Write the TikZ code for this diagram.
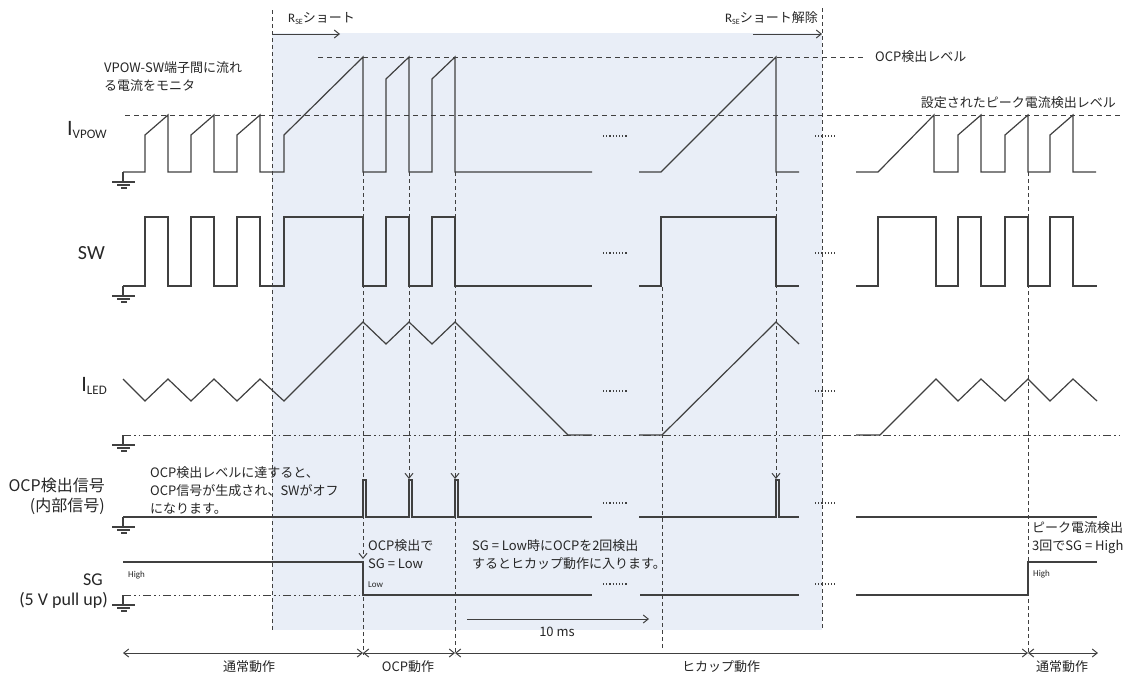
\documentclass[tikz,border=0pt]{standalone}
\usepackage{fontspec}
\setmainfont{Carlito}
\newfontfamily\jp{Noto Sans CJK JP}
\usetikzlibrary{arrows.meta}
\definecolor{wave}{HTML}{404040}
\definecolor{shortbg}{HTML}{E9EEF7}
\def\gnd(#1,#2){\draw[wave] (#1,#2) -- (#1,#2+10) (#1-11,#2+10) -- (#1+12,#2+10) (#1-6,#2+13) -- (#1+7,#2+13) (#1-2,#2+16) -- (#1+4,#2+16);}
\def\gapdots(#1){\draw[wave,dotted,line width=1.4pt] (603,#1) -- (627,#1); \draw[wave,dotted,line width=1.4pt] (815,#1) -- (837,#1);}

\begin{document}
\begin{tikzpicture}[x=1pt,y=-1pt,
  wave/.style={line width=1.2pt,color=wave,line join=miter},
  lvl/.style={wave,line width=1pt,dash pattern=on 5pt off 4pt},
  guide/.style={wave,line width=1pt,dash pattern=on 4pt off 3pt},
  gndline/.style={wave,line width=1pt,dash pattern=on 8pt off 3pt on 1.5pt off 3pt on 1.5pt off 3pt},
  >={Straight Barb[length=5pt,width=8pt]},
  note/.style={font=\jp\fontsize{13}{18}\selectfont,align=left,inner sep=0pt,text=black!85},
  small/.style={font=\fontsize{9}{10}\selectfont,inner sep=0pt,text=black!85},
  rowlbl/.style={inner sep=0pt,anchor=east,text=black!85}]
			%%%%% START %%%%%
			\useasboundingbox (0,0) rectangle (1131,673);
			\fill[shortbg] (272,33) rectangle (822,630);
			
			%% levels
			\draw[lvl] (125,115) -- (1120,115);
			\draw[lvl] (318,57) -- (866,57);
			\node[note,anchor=west] (ocplvl) at (875,57) {OCP検出レベル};
			\node[note,anchor=east] (pklvl) at (1116,103) {設定されたピーク電流検出レベル};
			
			%% R_SE short
			\draw[guide] (272,10) -- (272,630);
			\draw[guide] (822,8) -- (822,630);
			\draw[wave,line width=1pt,->] (272,34) -- (340,34);
			\draw[wave,line width=1pt,->] (753,34) -- (822,34);
			\node[inner sep=0pt,anchor=west,text=black!85] (rse) at (288,18) {\fontsize{13}{13}\selectfont R\raisebox{-2pt}{\fontsize{8}{8}\selectfont SE}\jp ショート};
			\node[inner sep=0pt,anchor=east,text=black!85] (rseoff) at (818,18) {\fontsize{13}{13}\selectfont R\raisebox{-2pt}{\fontsize{8}{8}\selectfont SE}\jp ショート解除};
			
			%% I_VPOW
			\node[rowlbl] (ivpow) at (107,130) {\fontsize{22}{22}\selectfont I\raisebox{-3pt}{\fontsize{13}{13}\selectfont VPOW}};
			\node[note,anchor=north west] (mon) at (104,61) {VPOW-SW端子間に流れ\\る電流をモニタ};
			\gnd(123,172);
			\draw[wave] (123,172) -- (145,172) -- (145,135) -- (168,115) -- (168,172) -- (191,172) -- (191,135) -- (214,115) -- (214,172) -- (237,172) -- (237,135) -- (260,115) -- (260,172) -- (284,172) -- (284,135) -- (363,57) -- (363,172) -- (386,172) -- (386,79) -- (409,57) -- (409,172) -- (432,172) -- (432,79) -- (455,57) -- (455,172) -- (592,172);
			\draw[wave] (639,172) -- (661,172) -- (776,57) -- (776,172) -- (799,172);
			\draw[wave] (856,172) -- (878,172) -- (934,115) -- (934,172) -- (958,172) -- (958,135) -- (981,115) -- (981,172) -- (1005,172) -- (1005,135) -- (1028,115) -- (1028,172) -- (1050,172) -- (1050,135) -- (1073,115) -- (1073,172) -- (1096,172);
			\gapdots(136);
			
			%% SW
			\node[rowlbl] (sw) at (105,253) {\fontsize{20}{20}\selectfont SW};
			\gnd(123,286);
			\draw[wave] (123,286) -- (145,286) -- (145,217) -- (168,217) -- (168,286) -- (191,286) -- (191,217) -- (214,217) -- (214,286) -- (237,286) -- (237,217) -- (260,217) -- (260,286) -- (284,286) -- (284,217) -- (363,217) -- (363,286) -- (386,286) -- (386,217) -- (409,217) -- (409,286) -- (432,286) -- (432,217) -- (455,217) -- (455,286) -- (592,286);
			\draw[wave] (639,286) -- (661,286) -- (661,217) -- (776,217) -- (776,286) -- (799,286);
			\draw[wave] (856,286) -- (878,286) -- (878,217) -- (936,217) -- (936,286) -- (958,286) -- (958,217) -- (981,217) -- (981,286) -- (1005,286) -- (1005,217) -- (1028,217) -- (1028,286) -- (1050,286) -- (1050,217) -- (1073,217) -- (1073,286) -- (1097,286);
			\gapdots(253);
			
			%% I_LED
			\node[rowlbl] (iled) at (107,386) {\fontsize{22}{22}\selectfont I\raisebox{-3pt}{\fontsize{13}{13}\selectfont LED}};
			\draw[gndline] (123,435) -- (1120,435);
			\gnd(123,435);
			\draw[wave] (123,379) -- (145,401) -- (168,379) -- (191,401) -- (214,379) -- (237,401) -- (260,379) -- (284,401) -- (363,322) -- (386,344) -- (409,322) -- (432,344) -- (455,322) -- (568,435) -- (592,435);
			\draw[wave] (639,435) -- (662,435) -- (776,322) -- (799,344);
			\draw[wave] (856,435) -- (880,435) -- (936,379) -- (958,401) -- (981,379) -- (1005,401) -- (1028,379) -- (1050,401) -- (1073,379) -- (1097,401);
			\gapdots(391);
			
			%% OCP signal
			\node[rowlbl,font=\jp\fontsize{16}{20}\selectfont,align=right,anchor=north east] (ocpsig) at (105,478) {OCP検出信号\\(内部信号)};
			\node[note,anchor=north west] (ocpnote) at (150,466) {OCP検出レベルに達すると、\\OCP信号が生成され、SWがオフ\\になります。};
			\gnd(123,517);
			\draw[wave] (123,517) -- (363,517) -- (363,480) -- (366,480) -- (366,517) -- (409,517) -- (409,480) -- (412,480) -- (412,517) -- (455,517) -- (455,480) -- (458,480) -- (458,517) -- (592,517);
			\draw[wave] (639,517) -- (776,517) -- (776,480) -- (779,480) -- (779,517) -- (799,517);
			\draw[wave] (856,517) -- (1097,517);
			\gapdots(503);
			
			%% SG
			\node[rowlbl] (sg) at (103,580) {\fontsize{18}{18}\selectfont SG};
			\node[rowlbl] (pullup) at (108,600) {\fontsize{18}{18}\selectfont (5 V pull up)};
			\draw[gndline] (123,595) -- (363,595);
			\gnd(123,595);
			\draw[wave] (123,562) -- (363,562) -- (363,595) -- (592,595);
			\draw[wave] (640,595) -- (799,595);
			\draw[wave] (856,595) -- (1028,595) -- (1028,562) -- (1097,562);
			\node[small,anchor=west] (sghi) at (128,575) {High};
			\node[small,anchor=west] (sglo) at (368,585) {Low};
			\node[small,anchor=west] (sghi2) at (1033,574) {High};
			\node[note,anchor=north west] (sgnote1) at (368,539) {OCP検出で\\SG = Low};
			\node[note,anchor=north west] (sgnote2) at (472,539) {SG = Low時にOCPを2回検出\\するとヒカップ動作に入ります。};
			\node[note,anchor=north west] (sgnote3) at (1032,521) {ピーク電流検出\\3回でSG = High};
			\gapdots(584);
			
			%% guides
			\draw[guide,->] (363,172) -- (363,559);
			\draw[guide] (363,562) -- (363,655);
			\draw[guide,->] (409,172) -- (409,479);
			\draw[guide,->] (455,172) -- (455,479);
			\draw[guide] (455,480) -- (455,655);
			\draw[guide,->] (776,172) -- (776,479);
			\draw[guide] (662,287) -- (662,650);
			\draw[guide] (1028,172) -- (1028,655);
			
			%% 10 ms
			\draw[wave,line width=1pt,->] (467,619) -- (649,619);
			\node[note,anchor=center] (tenms) at (557,632) {10 ms};
			
			%% phases
			\draw[wave,line width=1pt,<->] (123,653) -- (363,653);
			\draw[wave,line width=1pt,<->] (363,653) -- (455,653);
			\draw[wave,line width=1pt,<->] (455,653) -- (1028,653);
			\draw[wave,line width=1pt,<->] (1028,653) -- (1098,653);
			\node[note,anchor=center] (norm1) at (249,667) {通常動作};
			\node[note,anchor=center] (ocpop) at (408,667) {OCP動作};
			\node[note,anchor=center] (hic) at (721,667) {ヒカップ動作};
			\node[note,anchor=center] (norm2) at (1062,667) {通常動作};
			%%%%% END %%%%%
\end{tikzpicture}
\end{document}
